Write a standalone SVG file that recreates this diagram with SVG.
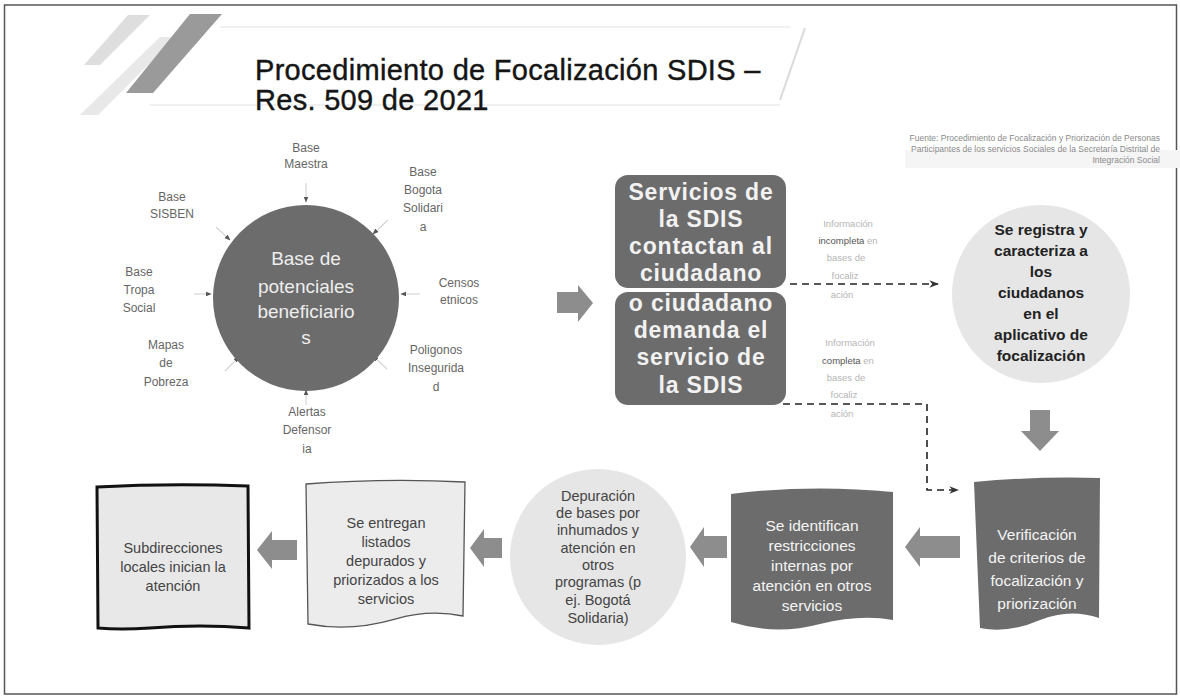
<svg xmlns="http://www.w3.org/2000/svg" width="1180" height="698" viewBox="0 0 1180 698">
<defs>
<marker id="tip" viewBox="0 0 10 10" refX="9" refY="5" markerWidth="6" markerHeight="6" orient="auto"><path d="M0,1 L10,5 L0,9 L3,5 Z" fill="#333"/></marker>
<marker id="small" viewBox="0 0 10 10" refX="9" refY="5" markerWidth="5" markerHeight="5" orient="auto"><path d="M0,1 L10,5 L0,9 Z" fill="#555"/></marker>
<style>
.title{font-family:"Liberation Sans",Arial,sans-serif;font-size:29px;letter-spacing:0.3px;fill:#151515;stroke:#151515;stroke-width:0.4}
.lbl{font-family:"Liberation Sans",Arial,sans-serif;font-size:12px;fill:#666;text-anchor:middle}
.big{font-family:"Liberation Sans",Arial,sans-serif;font-size:19px;fill:#eeeeee;text-anchor:middle}
.sdis{font-family:"Liberation Sans",Arial,sans-serif;font-size:23px;letter-spacing:0.8px;font-weight:bold;fill:#f2f2f2;text-anchor:middle}
.reg{font-family:"Liberation Sans",Arial,sans-serif;font-size:15.5px;font-weight:bold;fill:#222;text-anchor:middle}
.wt{font-family:"Liberation Sans",Arial,sans-serif;font-size:15.5px;fill:#f4f4f4;text-anchor:middle}
.dk{font-family:"Liberation Sans",Arial,sans-serif;font-size:14.5px;fill:#444;text-anchor:middle}
.info{font-family:"Liberation Sans",Arial,sans-serif;font-size:9.5px;fill:#b5b5b5;text-anchor:middle}
.src{font-family:"Liberation Sans",Arial,sans-serif;font-size:8.5px;fill:#8a8a8a;text-anchor:end}
.dark{fill:#6c6c6c}
.light{fill:#e6e6e6}
.arrow{fill:#8d8d8d}
.dash{fill:none;stroke:#222;stroke-width:1.6;stroke-dasharray:7 5}
.stub{stroke:#d5d5d5;stroke-width:1.2}
</style>
</defs>
<rect x="0" y="0" width="1180" height="698" fill="#ffffff"/>
<rect x="4.5" y="5" width="1172" height="689" fill="none" stroke="#555" stroke-width="1.5"/>
<g id="decor">
<polygon points="128,15 150,15 100,65 84,65" fill="#dedede"/>
<polygon points="160,37 176,37 98,115 80,115" fill="#e8e8e8"/>
<polygon points="190,14 222,14 153,93 126,93" fill="#9a9a9a"/>
<line x1="220" y1="27" x2="790" y2="27" stroke="#f0f0f0" stroke-width="2"/>
<line x1="150" y1="105" x2="780" y2="105" stroke="#f0f0f0" stroke-width="2"/>
<line x1="805" y1="28" x2="780" y2="100" stroke="#dadada" stroke-width="2"/>
<rect x="905" y="150" width="275" height="18" fill="#f5f5f5"/>
</g>
<g id="title">
<text class="title" x="255" y="80">Procedimiento de Focalización SDIS –</text>
<text class="title" x="255" y="110">Res. 509 de 2021</text>
</g>
<g id="source">
<text class="src" x="1160" y="141">Fuente: Procedimiento de Focalización y Priorización de Personas</text>
<text class="src" x="1160" y="152">Participantes de los servicios Sociales de la Secretaría Distrital de</text>
<text class="src" x="1160" y="163">Integración Social</text>
</g>
<g id="connectors">
<line class="stub" x1="306" y1="183" x2="306" y2="202" marker-end="url(#small)"/>
<line class="stub" x1="388" y1="220" x2="373" y2="234" marker-end="url(#small)"/>
<line class="stub" x1="420" y1="294" x2="401" y2="294" marker-end="url(#small)"/>
<line class="stub" x1="387" y1="369" x2="373" y2="356" marker-end="url(#small)"/>
<line class="stub" x1="306" y1="405" x2="306" y2="390" marker-end="url(#small)"/>
<line class="stub" x1="225" y1="371" x2="239" y2="357" marker-end="url(#small)"/>
<line class="stub" x1="194" y1="294" x2="211" y2="294" marker-end="url(#small)"/>
<line class="stub" x1="216" y1="227" x2="230" y2="240" marker-end="url(#small)"/>
<polygon class="arrow" points="557,292 578,292 578,285 593,303 578,322 578,313 557,313"/>
<path class="dash" d="M790,284 L938,284" marker-end="url(#tip)"/>
<path class="dash" d="M783,404 L927,404 L927,490 L958,490" marker-end="url(#tip)"/>
<polygon class="arrow" points="1030,410 1050,410 1050,431 1059,431 1040,451 1021,431 1030,431"/>
<polygon class="arrow" points="960,536 920,536 920,527 905,547 920,567 920,558 960,558"/>
<polygon class="arrow" points="727,536 704,536 704,527 690,547 704,567 704,558 727,558"/>
<polygon class="arrow" points="502,538 484,538 484,529 470,548 484,567 484,558 502,558"/>
<polygon class="arrow" points="297,540 272,540 272,531 257,550 272,569 272,560 297,560"/>
</g>
<g id="base-circle">
<circle cx="306" cy="298" r="93" fill="#6c6c6c"/>
<text class="big" x="306" y="265">Base de</text>
<text class="big" x="306" y="293">potenciales</text>
<text class="big" x="306" y="318">beneficiario</text>
<text class="big" x="306" y="344">s</text>
</g>
<g id="src-maestra"><text class="lbl" x="306" y="152">Base</text><text class="lbl" x="306" y="168">Maestra</text></g>
<g id="src-bogota"><text class="lbl" x="423" y="176">Base</text><text class="lbl" x="423" y="194">Bogota</text><text class="lbl" x="423" y="212">Solidari</text><text class="lbl" x="423" y="231">a</text></g>
<g id="src-censos"><text class="lbl" x="459" y="287">Censos</text><text class="lbl" x="459" y="304">etnicos</text></g>
<g id="src-poligonos"><text class="lbl" x="436" y="354">Poligonos</text><text class="lbl" x="436" y="372">Insegurida</text><text class="lbl" x="436" y="391">d</text></g>
<g id="src-alertas"><text class="lbl" x="307" y="416">Alertas</text><text class="lbl" x="307" y="434">Defensor</text><text class="lbl" x="307" y="453">ia</text></g>
<g id="src-mapas"><text class="lbl" x="166" y="349">Mapas</text><text class="lbl" x="166" y="367">de</text><text class="lbl" x="166" y="386">Pobreza</text></g>
<g id="src-tropa"><text class="lbl" x="139" y="276">Base</text><text class="lbl" x="139" y="294">Tropa</text><text class="lbl" x="139" y="312">Social</text></g>
<g id="src-sisben"><text class="lbl" x="172" y="201">Base</text><text class="lbl" x="172" y="218">SISBEN</text></g>
<g id="sdis-contact">
<rect x="615" y="175" width="171" height="113" rx="13" class="dark"/>
<text class="sdis" x="701" y="200">Servicios de</text>
<text class="sdis" x="701" y="227">la SDIS</text>
<text class="sdis" x="701" y="254">contactan al</text>
<text class="sdis" x="701" y="281">ciudadano</text>
</g>
<g id="sdis-demand">
<rect x="615" y="292" width="171" height="113" rx="13" class="dark"/>
<text class="sdis" x="701" y="311">o ciudadano</text>
<text class="sdis" x="701" y="338">demanda el</text>
<text class="sdis" x="701" y="365">servicio de</text>
<text class="sdis" x="701" y="393">la SDIS</text>
</g>
<g id="label-incompleta">
<text class="info" x="848" y="227">Información</text>
<text class="info" x="848" y="244"><tspan fill="#555">incompleta</tspan> en</text>
<text class="info" x="846" y="261">bases de</text>
<text class="info" x="845" y="279">focaliz</text>
<text class="info" x="842" y="298">ación</text>
</g>
<g id="label-completa">
<text class="info" x="850" y="346">Información</text>
<text class="info" x="848" y="364"><tspan fill="#555">completa</tspan> en</text>
<text class="info" x="846" y="381">bases de</text>
<text class="info" x="844" y="398">focaliz</text>
<text class="info" x="842" y="417">ación</text>
</g>
<g id="registro">
<circle cx="1041" cy="294" r="89" class="light"/>
<text class="reg" x="1041" y="235">Se registra y</text>
<text class="reg" x="1041" y="256">caracteriza a</text>
<text class="reg" x="1041" y="277">los</text>
<text class="reg" x="1041" y="298">ciudadanos</text>
<text class="reg" x="1041" y="319">en el</text>
<text class="reg" x="1041" y="340">aplicativo de</text>
<text class="reg" x="1041" y="361">focalización</text>
</g>
<g id="verificacion">
<path d="M974,482 Q1040,476 1100,478 L1099,618 Q1070,608 1040,620 Q1008,634 980,628 Z" class="dark"/>
<text class="wt" x="1037" y="540">Verificación</text>
<text class="wt" x="1037" y="563">de criterios de</text>
<text class="wt" x="1037" y="586">focalización y</text>
<text class="wt" x="1037" y="609">priorización</text>
</g>
<g id="restricciones">
<path d="M731,494 Q810,484 893,492 L893,620 Q860,614 820,624 Q775,636 731,622 Z" class="dark"/>
<text class="wt" x="812" y="531">Se identifican</text>
<text class="wt" x="812" y="551">restricciones</text>
<text class="wt" x="812" y="571">internas por</text>
<text class="wt" x="812" y="591">atención en otros</text>
<text class="wt" x="812" y="611">servicios</text>
</g>
<g id="depuracion">
<circle cx="598" cy="557" r="88" class="light"/>
<text class="dk" x="598" y="501">Depuración</text>
<text class="dk" x="598" y="518">de bases por</text>
<text class="dk" x="598" y="535">inhumados  y</text>
<text class="dk" x="598" y="553">atención en</text>
<text class="dk" x="598" y="570">otros</text>
<text class="dk" x="598" y="587">programas (p</text>
<text class="dk" x="598" y="605">ej. Bogotá</text>
<text class="dk" x="598" y="623">Solidaria)</text>
</g>
<g id="entregan">
<path d="M306,484 Q385,478 465,482 L463,616 Q430,609 395,619 Q350,632 308,624 Z" fill="#ececec" stroke="#555" stroke-width="1.3"/>
<text class="dk" x="386" y="528">Se entregan</text>
<text class="dk" x="386" y="547">listados</text>
<text class="dk" x="386" y="566">depurados y</text>
<text class="dk" x="386" y="585">priorizados a los</text>
<text class="dk" x="386" y="604">servicios</text>
</g>
<g id="subdirecciones">
<path d="M97,487 Q170,483 248,486 L249,628 Q200,624 150,628 Q120,630 98,628 Z" fill="#e8e8e8" stroke="#111" stroke-width="3"/>
<text class="dk" x="173" y="553">Subdirecciones</text>
<text class="dk" x="173" y="572">locales inician la</text>
<text class="dk" x="173" y="591">atención</text>
</g>
</svg>
